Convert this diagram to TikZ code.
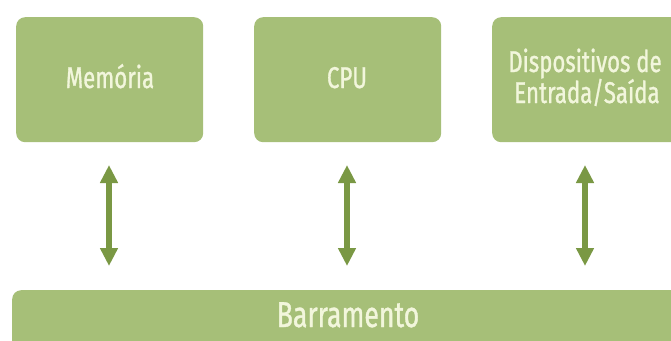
\documentclass[tikz,border=0pt]{standalone}
\usepackage{fontspec}
\setmainfont[FakeStretch=0.74,FakeBold=1.0]{Fira Sans}
\usetikzlibrary{arrows.meta}
\definecolor{boxgreen}{HTML}{A6BF78}
\definecolor{arrowgreen}{HTML}{7A9844}
\definecolor{txtcream}{HTML}{F2F6DC}
\tikzset{
  unitbox/.style={fill=boxgreen, draw=none, rounded corners=9pt, minimum height=125pt, anchor=north west, inner sep=0pt},
  boxlabel/.style={text=txtcream, font=\fontsize{30}{31}\selectfont, align=center, inner sep=0pt},
  buslabel/.style={text=txtcream, font=\fontsize{36}{40}\selectfont, inner sep=0pt},
  busarrow/.style={draw=arrowgreen, line width=6pt, {Triangle[width=17pt,length=18pt]}-{Triangle[width=17pt,length=18pt]}}
}
\begin{document}
\begin{tikzpicture}[x=1pt,y=-1pt]
\useasboundingbox (0,0) rectangle (671,340);
\begin{scope}
\clip (0,0) rectangle (671,340);
\node[unitbox, minimum width=187pt] (mem) at (16,17) {};
\node[unitbox, minimum width=187pt] (cpu) at (254,17) {};
\node[unitbox, minimum width=200pt] (io) at (492,17) {};
\node[fill=boxgreen, rounded corners=9pt, minimum width=680pt, minimum height=70pt, anchor=north west, inner sep=0pt] (bus) at (12,290) {};
\end{scope}
\node[boxlabel, anchor=base] (memt) at (110,88) {Memória};
\node[boxlabel, anchor=base] (cput) at (347,88) {CPU};
\node[boxlabel, anchor=base] (iot) at (585,72) {Dispositivos de};
\node[boxlabel, anchor=base] (iot2) at (587,103) {Entrada/Saída};
\node[buslabel, anchor=base] (bust) at (348,327) {Barramento};
\coordinate (m1) at (109,165); \coordinate (m2) at (109,266);
\coordinate (c1) at (347,165); \coordinate (c2) at (347,266);
\coordinate (d1) at (585,165); \coordinate (d2) at (585,266);
\draw[busarrow] (m1) -- (m2);
\draw[busarrow] (c1) -- (c2);
\draw[busarrow] (d1) -- (d2);
\end{tikzpicture}
\end{document}
